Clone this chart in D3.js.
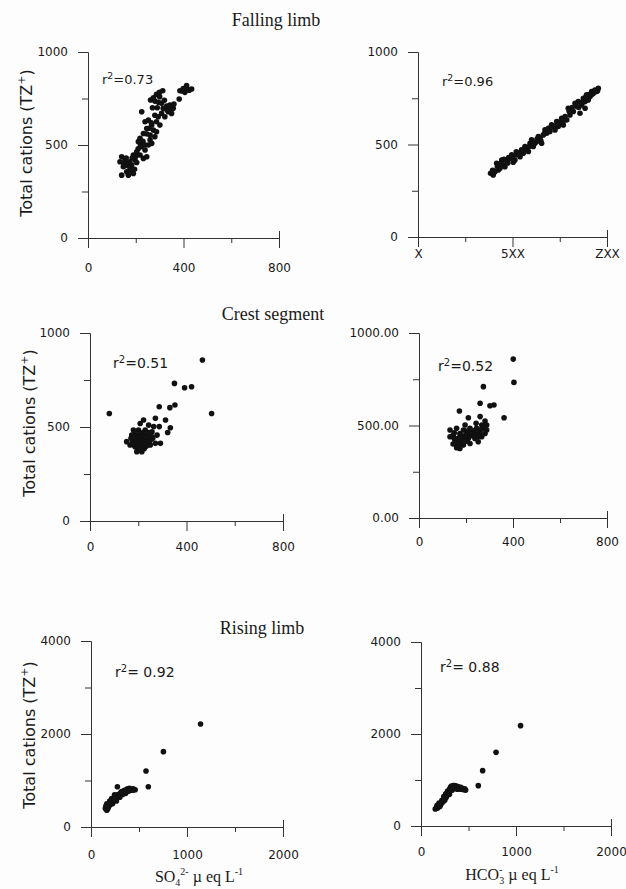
<!DOCTYPE html>
<html lang="en">
<head>
<meta charset="UTF-8">
<title>Total cations vs SO4 and HCO3</title>
<script src="https://d3js.org/d3.v7.min.js"></script>
<style>
    body { margin: 0; background: #fdfdfd; }
    svg { display: block; }
    .tick text { font-family: "DejaVu Sans", sans-serif; font-size: 12px; fill: #1a1a1a; }
    .domain, .tick line { stroke: #333; stroke-width: 1; }
</style>
</head>
<body>
<div id="chart"></div>
<script>
    var width = 626;
    var height = 889;

    // titles and labels
    var titles = ["Falling limb", "Crest segment", "Rising limb"];
    var r2Values = ["=0.73", "=0.96", "=0.51", "=0.52", "= 0.92", "= 0.88"];

    // tick values / labels (blank = minor tick)
    var xTicks800 = [0, 200, 400, 600, 800];
    var xLabels800 = ["0", "", "400", "", "800"];
    var xTicksFallHCO3 = [0, 250, 500, 750, 1000];
    var xLabelsFallHCO3 = ["X", "", "5XX", "", "ZXX"];
    var xTicks2000 = [0, 500, 1000, 1500, 2000];
    var xLabels2000 = ["0", "", "1000", "", "2000"];
    var yTicks1000 = [0, 250, 500, 750, 1000];
    var yLabels1000 = ["0", "", "500", "", "1000"];
    var yLabels1000dec = ["0.00", "", "500.00", "", "1000.00"];
    var yTicks4000 = [0, 1000, 2000, 3000, 4000];
    var yLabels4000 = ["0", "", "2000", "", "4000"];

    // [anion, TZ+] pairs, µeq/L
    var fallingSO4 = [
        [385,792],[399,804],[413,819],[424,795],[434,801],[406,783],[382,747],
        [262,742],[274,754],[287,772],[299,783],[313,792],[280,736],[308,724],
        [343,715],[315,697],[336,679],[350,670],[308,670],[322,652],[357,697],
        [225,679],[239,625],[253,634],[267,607],[274,580],[246,589],[232,562],
        [260,553],[280,544],[287,625],[294,652],[301,607],[287,571],[211,518],
        [225,491],[239,473],[253,500],[218,446],[232,428],[246,437],[267,509],
        [204,464],[260,527],[218,536],[141,437],[155,419],[169,401],[148,383],
        [183,392],[162,356],[190,347],[141,338],[197,419],[176,374],[190,446],
        [204,406],[169,338],[134,410],[330,690],[270,700],[300,760],
        [150,400],[160,390],[175,410],[185,430],[200,440],[210,480],[220,500],
        [230,520],[245,560],[255,590],[265,620],[280,660],[290,700],[295,730],
        [320,740],[330,710],[345,690],[360,720],[395,790],[415,800],[180,360],
        [195,370],[160,430],[240,500]
    ];
    var fallingHCO3 = [
        [384,344],[407,353],[416,398],[434,371],[451,389],[443,416],[469,411],
        [487,425],[504,404],[522,444],[540,434],[557,453],[566,489],[584,462],
        [593,507],[610,489],[628,516],[645,534],[663,552],[654,507],[681,561],
        [698,570],[707,606],[725,579],[742,597],[751,615],[769,606],[787,633],
        [804,660],[795,696],[822,678],[840,705],[848,732],[866,714],[875,750],
        [892,768],[901,741],[919,786],[936,795],[954,804],[857,669],[884,696],
        [910,759],[398,335],[425,362],[460,380],[496,444],[513,416],[548,471],
        [575,480],[601,525],[619,507],[637,543],[672,579],[690,588],[716,597],
        [734,624],[760,642],[778,651],[813,687],[831,723],[884,732],[928,777],
        [945,786],[395,360],[420,380],[440,400],[455,420],[480,430],[500,430],
        [520,460],[535,455],[560,470],[590,490],[610,510],[630,530],[650,520],
        [670,560],[700,590],[720,600],[745,620],[770,630],[800,680],[815,700],
        [850,700],[870,730],[890,760],[905,770],[920,770],[950,790],[430,390],
        [475,400]
    ];
    var crestSO4 = [
        [466,856],[350,732],[392,709],[421,714],[80,572],[504,572],[287,608],
        [331,603],[352,617],[271,546],[313,537],[287,502],[333,496],[322,471],
        [222,537],[208,519],[243,510],[180,484],[201,484],[229,484],[257,475],
        [152,422],[173,457],[194,457],[215,457],[236,457],[257,448],[180,431],
        [201,422],[222,422],[243,422],[271,413],[187,395],[208,386],[229,395],
        [194,369],[215,369],[166,404],[278,457],[250,404],[292,413],[264,502],
        [190,440],[210,440],[230,440],[200,405],[220,405],[185,470],[245,470],
        [175,415],[185,425],[195,430],[205,430],[215,430],[225,430],[235,430],
        [190,450],[200,455],[210,465],[220,470],[230,450],[240,445],[185,400],
        [195,395],[205,395],[215,380],[225,385],[235,400],[245,410],[180,450],
        [170,440],[200,375],[210,375],[250,430],[260,440]
    ];
    var crestHCO3 = [
        [401,859],[404,733],[274,710],[260,620],[302,607],[319,611],[362,542],
        [172,578],[210,542],[260,548],[243,512],[196,503],[281,524],[267,503],
        [288,503],[132,476],[160,485],[189,476],[217,485],[245,485],[274,485],
        [288,476],[146,448],[174,457],[203,448],[231,457],[260,457],[281,457],
        [153,421],[181,421],[210,430],[238,430],[267,439],[160,394],[189,394],
        [217,403],[174,376],[132,439],[252,412],[196,440],[224,445],[167,410],
        [203,415],[150,460],[230,470],[150,430],[165,430],[175,440],[185,445],
        [195,430],[205,460],[215,465],[225,470],[240,475],[255,470],[265,480],
        [275,490],[285,500],[170,400],[180,405],[190,410],[160,380],[170,385],
        [145,400],[200,470],[245,450],[255,440]
    ];
    var risingSO4 = [
        [150,400],[160,380],[170,430],[180,470],[165,500],[190,520],[200,480],
        [210,560],[220,540],[230,600],[240,580],[250,640],[260,620],[270,680],
        [280,650],[290,700],[300,690],[310,740],[320,720],[330,760],[340,740],
        [350,790],[360,770],[370,800],[380,820],[390,790],[400,830],[420,810],
        [440,820],[460,800],[155,450],[175,390],[195,560],[215,610],[245,690],
        [225,500],[265,560],[300,640],[330,700],[360,720],[275,867],[597,867],
        [573,1204],[754,1620],[1141,2215],
        [170,470],[185,500],[200,530],[210,510],[230,560],[250,600],[270,620],
        [290,660],[310,700],[330,720],[350,750],[370,760],[390,770],[410,790],
        [430,790],[445,800],[180,430],[160,420],[165,360],[185,440],[240,620],
        [280,700],[320,760],[345,780],[255,670]
    ];
    var risingHCO3 = [
        [160,380],[180,400],[200,430],[170,450],[210,480],[230,520],[220,560],
        [250,600],[240,640],[270,660],[260,700],[290,720],[280,760],[300,800],
        [310,840],[320,870],[340,880],[350,850],[370,870],[390,860],[400,820],
        [420,840],[440,800],[460,810],[470,780],[300,690],[330,780],[190,500],
        [250,560],[360,830],[380,800],[150,370],[603,877],[649,1203],[790,1601],
        [1048,2181],
        [165,410],[185,430],[205,460],[215,510],[235,560],[255,640],[265,620],
        [285,680],[295,760],[305,770],[325,820],[335,850],[355,880],[375,850],
        [395,830],[410,800],[430,820],[450,790],[170,390],[190,420],[245,600],
        [275,720],[315,800],[345,820]
    ];

    // layout of the six panels (pixel frame of each plot)
    var panels = [
        {data:fallingSO4, x0:88, x1:279, y0:238, y1:52, xd:[0,800], yd:[0,1000],
         xt:xTicks800, xl:xLabels800, yt:yTicks1000, yl:yLabels1000, xlab:25,
         r2:r2Values[0], r2x:102, r2y:84, r2s:13, ylabel:{x:32, y:143}},
        {data:fallingHCO3, x0:418, x1:607, y0:237, y1:52, xd:[0,1000], yd:[0,1000],
         xt:xTicksFallHCO3, xl:xLabelsFallHCO3, yt:yTicks1000, yl:yLabels1000, xlab:12,
         r2:r2Values[1], r2x:442, r2y:86, r2s:13},
        {data:crestSO4, x0:90, x1:283, y0:521, y1:333, xd:[0,800], yd:[0,1000],
         xt:xTicks800, xl:xLabels800, yt:yTicks1000, yl:yLabels1000, xlab:21,
         r2:r2Values[2], r2x:113, r2y:368, r2s:14, ylabel:{x:35, y:423}},
        {data:crestHCO3, x0:419, x1:607, y0:518, y1:333, xd:[0,800], yd:[0,1000],
         xt:xTicks800, xl:xLabels800, yt:yTicks1000, yl:yLabels1000dec, xlab:19,
         r2:r2Values[3], r2x:438, r2y:371, r2s:14},
        {data:risingSO4, x0:91, x1:283, y0:827, y1:641, xd:[0,2000], yd:[0,4000],
         xt:xTicks2000, xl:xLabels2000, yt:yTicks4000, yl:yLabels4000, xlab:23,
         r2:r2Values[4], r2x:115, r2y:677, r2s:14, ylabel:{x:35, y:735}},
        {data:risingHCO3, x0:421, x1:611, y0:826, y1:642, xd:[0,2000], yd:[0,4000],
         xt:xTicks2000, xl:xLabels2000, yt:yTicks4000, yl:yLabels4000, xlab:21,
         r2:r2Values[5], r2x:440, r2y:672, r2s:14}
    ];
    var titlePos = [{x:276, y:26}, {x:273, y:320}, {x:262, y:634}];

    var svg = d3.select("#chart").append("svg")
        .attr("width", width)
        .attr("height", height);

    svg.append("rect").attr("width", width).attr("height", height).attr("fill", "#fdfdfd");

    panels.forEach(function(p){
        var x = d3.scaleLinear().domain(p.xd).range([p.x0, p.x1]);
        var y = d3.scaleLinear().domain(p.yd).range([p.y0, p.y1]);

        // x axis
        var gx = svg.append("g")
            .attr("transform", "translate(0," + p.y0 + ")")
            .call(d3.axisBottom(x).tickValues(p.xt).tickSizeOuter(0).tickSize(10)
                .tickFormat(function(d, i){ return p.xl[i]; }));
        gx.selectAll(".tick line")
            .attr("y2", function(d, i){ return p.xl[i] ? 10 : 5; })
            .attr("y1", function(d, i){ return i == p.xt.length - 1 ? -7 : 0; });
        gx.selectAll(".tick text").attr("y", p.xlab);

        // y axis
        var gy = svg.append("g")
            .attr("transform", "translate(" + p.x0 + ",0)")
            .call(d3.axisLeft(y).tickValues(p.yt).tickSizeOuter(0).tickSize(10)
                .tickFormat(function(d, i){ return p.yl[i]; }));
        gy.selectAll(".tick line")
            .attr("x2", function(d, i){ return p.yl[i] ? -10 : -6; });
        gy.selectAll(".tick text").attr("x", -20);

        // points
        svg.append("g")
            .selectAll("circle")
            .data(p.data)
            .enter()
            .append("circle")
            .attr("cx", function(d){ return x(d[0]); })
            .attr("cy", function(d){ return y(d[1]); })
            .attr("r", 2.8)
            .attr("fill", "#111");

        // r² label
        var t = svg.append("text")
            .attr("x", p.r2x)
            .attr("y", p.r2y)
            .attr("font-family", "DejaVu Sans, sans-serif")
            .attr("font-size", p.r2s)
            .attr("fill", "#1a1a1a");
        t.append("tspan").text("r");
        t.append("tspan").attr("dy", -p.r2s * 0.38).attr("font-size", p.r2s * 0.72).text("2");
        t.append("tspan").attr("dy", p.r2s * 0.38).text(p.r2);

        // y axis title (left column only)
        if (p.ylabel) {
            var yl = svg.append("text")
                .attr("transform", "translate(" + p.ylabel.x + "," + p.ylabel.y + ") rotate(-90)")
                .attr("text-anchor", "middle")
                .attr("font-family", "DejaVu Sans, sans-serif")
                .attr("font-size", 16)
                .attr("fill", "#1a1a1a");
            yl.append("tspan").text("Total cations (TZ");
            yl.append("tspan").attr("dy", -7).attr("font-size", 11).text("+");
            yl.append("tspan").attr("dy", 7).text(")");
        }
    });

    // segment titles
    svg.selectAll(".seg-title")
        .data(titles)
        .enter()
        .append("text")
        .attr("class", "seg-title")
        .attr("x", function(d, i){ return titlePos[i].x; })
        .attr("y", function(d, i){ return titlePos[i].y; })
        .attr("text-anchor", "middle")
        .attr("font-family", "Liberation Serif, Times New Roman, serif")
        .attr("font-size", 18)
        .attr("fill", "#1a1a1a")
        .text(function(d){ return d; });

    // bottom axis titles
    var so4 = svg.append("text")
        .attr("x", 199).attr("y", 882)
        .attr("text-anchor", "middle")
        .attr("font-family", "Liberation Serif, Times New Roman, serif")
        .attr("font-size", 16)
        .attr("fill", "#1a1a1a");
    so4.append("tspan").text("SO");
    so4.append("tspan").attr("dy", 4).attr("font-size", 10).text("4");
    so4.append("tspan").attr("dy", -11).attr("font-size", 10).text("2-");
    so4.append("tspan").attr("dy", 7).text(" \u00b5 eq L");
    so4.append("tspan").attr("dy", -7).attr("font-size", 10).text("-1");

    var hco3 = svg.append("text")
        .attr("x", 512).attr("y", 880)
        .attr("text-anchor", "middle")
        .attr("font-family", "Liberation Serif, Times New Roman, serif")
        .attr("font-size", 16)
        .attr("fill", "#1a1a1a");
    hco3.append("tspan").text("HCO");
    hco3.append("tspan").attr("dy", -7).attr("font-size", 10).text("-");
    hco3.append("tspan").attr("dy", 11).attr("font-size", 10).attr("dx", -3).text("3");
    hco3.append("tspan").attr("dy", -4).text(" \u00b5 eq L");
    hco3.append("tspan").attr("dy", -7).attr("font-size", 10).text("-1");
</script>
</body>
</html>
